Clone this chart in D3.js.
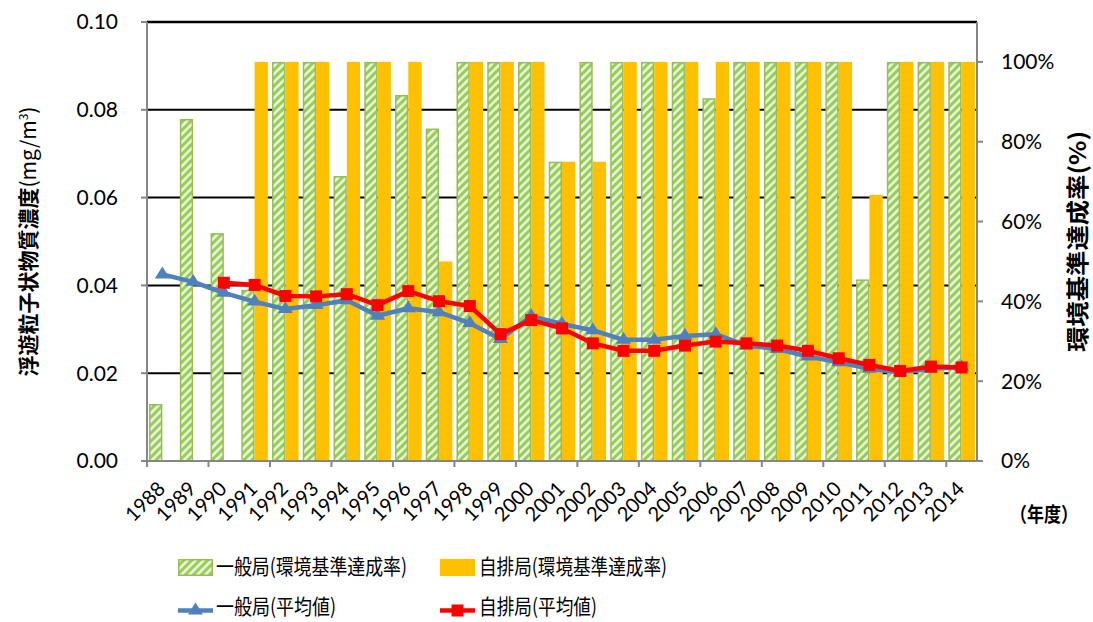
<!DOCTYPE html>
<html><head><meta charset="utf-8">
<script src="https://cdn.jsdelivr.net/npm/d3@7"></script>
<style>body{margin:0;background:#fff}svg{display:block}</style>
</head><body>
<svg id="c" width="1093" height="622"></svg>
<script>
const years = ["1988","1989","1990","1991","1992","1993","1994","1995","1996","1997","1998","1999","2000","2001","2002","2003","2004","2005","2006","2007","2008","2009","2010","2011","2012","2013","2014"];
// 環境基準達成率 (%)
const genRate  = [14.3,85.7,57.1,42.9,100,100,71.4,100,91.7,83.3,100,100,100,75,100,100,100,100,90.9,100,100,100,100,45.5,100,100,100];
const autoRate = [null,null,null,100,100,100,100,100,100,50,100,100,100,75,75,100,100,100,100,100,100,100,100,66.7,100,100,100];
// 平均値 (mg/m3)
const genMean  = [0.0425,0.0408,0.0383,0.0363,0.0346,0.0355,0.0366,0.0331,0.0348,0.0339,0.0314,0.0278,0.0330,0.0312,0.0298,0.0276,0.0276,0.0285,0.0289,0.0263,0.0255,0.0238,0.0225,0.0210,0.0202,0.0210,0.0214];
const autoMean = [null,null,0.0406,0.0401,0.0376,0.0375,0.0380,0.0355,0.0387,0.0364,0.0353,0.0289,0.0321,0.0302,0.0268,0.0251,0.0251,0.0263,0.0272,0.0268,0.0263,0.0251,0.0234,0.0219,0.0205,0.0215,0.0213];
const leftTicks = [0,0.02,0.04,0.06,0.08,0.10];
const rightTicks = [0,20,40,60,80,100];
const legendLabels = ["一般局(環境基準達成率)","自排局(環境基準達成率)","一般局(平均値)","自排局(平均値)"];

const svg = d3.select("#c");
const L = 147, R = 977, T = 22, B = 461;
const num = "Lato, 'Noto Sans', sans-serif";
const cjk = "'Noto Sans CJK JP', sans-serif";

const x = d3.scaleBand().domain(years).range([L, R]).padding(0);
const x1 = d3.scaleBand().domain(["g","a"]).range([0, x.bandwidth()]).paddingInner(0).paddingOuter(0.156);
const yL = d3.scaleLinear().domain([0, 0.10]).range([B, T]);
const yR = d3.scaleLinear().domain([0, 110]).range([B, T]);

// pattern
const defs = svg.append("defs");
const pat = defs.append("pattern").attr("id","hatch").attr("patternUnits","userSpaceOnUse")
  .attr("width",8).attr("height",8);
pat.append("rect").attr("width",8).attr("height",8).attr("fill","#EBF1DE");
pat.append("path").attr("d","M-2,10 L10,-2 M-2,2 L2,-2 M6,10 L10,6").attr("stroke","#92D050").attr("stroke-width",3);

// gridlines
svg.append("g").selectAll("line").data(leftTicks.filter(d=>d>0)).join("line")
  .attr("x1",L).attr("x2",R).attr("y1",d=>yL(d)).attr("y2",d=>yL(d))
  .attr("stroke","#000").attr("stroke-width",d=>d===0.10?2.6:2);

// bars
const gb = svg.append("g");
gb.selectAll("rect.g").data(years.map((y,i)=>({y,v:genRate[i]})).filter(d=>d.v!=null)).join("rect")
  .attr("x",d=>x(d.y)+x1("g")+0.75).attr("width",x1.bandwidth()-1.5)
  .attr("y",d=>yR(d.v)+0.75).attr("height",d=>B-yR(d.v)-0.75)
  .attr("fill","url(#hatch)").attr("stroke","#9BBB59").attr("stroke-width",1.5);
gb.selectAll("rect.a").data(years.map((y,i)=>({y,v:autoRate[i]})).filter(d=>d.v!=null)).join("rect")
  .attr("x",d=>x(d.y)+x1("a")).attr("width",x1.bandwidth())
  .attr("y",d=>yR(d.v)).attr("height",d=>B-yR(d.v))
  .attr("fill","#FFC000");

// axes lines
const ax = svg.append("g").attr("stroke","#868686").attr("stroke-width",2);
ax.append("line").attr("x1",L).attr("x2",L).attr("y1",T).attr("y2",B);
ax.append("line").attr("x1",R).attr("x2",R).attr("y1",T).attr("y2",B+1);
ax.append("line").attr("x1",L-1).attr("x2",R+1).attr("y1",B).attr("y2",B);
ax.selectAll("line.tl").data(leftTicks).join("line").attr("x1",L-6).attr("x2",L).attr("y1",d=>yL(d)).attr("y2",d=>yL(d));
ax.selectAll("line.tr").data(rightTicks).join("line").attr("x1",R).attr("x2",R+6).attr("y1",d=>yR(d)).attr("y2",d=>yR(d));
ax.selectAll("line.tb").data(years.filter((d,i)=>i%2===0)).join("line")
  .attr("x1",d=>x(d)).attr("x2",d=>x(d)).attr("y1",B).attr("y2",B+6);

// tick labels
svg.append("g").selectAll("text").data(leftTicks).join("text")
  .attr("x",118).attr("y",d=>yL(d)).attr("dy","0.35em").attr("text-anchor","end")
  .attr("font-family",num).attr("font-size",21).text(d=>d3.format(".2f")(d));
svg.append("g").selectAll("text").data(rightTicks).join("text")
  .attr("x",1001).attr("y",d=>yR(d)).attr("dy","0.35em").attr("text-anchor","start")
  .attr("font-family",num).attr("font-size",21).text(d=>d+"%");
svg.append("g").selectAll("text").data(years).join("text")
  .attr("transform",d=>`translate(${x(d)+x.bandwidth()/2+4},${490}) rotate(-45)`)
  .attr("text-anchor","end").attr("font-family",num).attr("font-size",20).text(d=>d);

// lines
const cx = d => x(d)+x.bandwidth()/2;
const gData = years.map((y,i)=>({y,v:genMean[i]})).filter(d=>d.v!=null);
const aData = years.map((y,i)=>({y,v:autoMean[i]})).filter(d=>d.v!=null);
const line = d3.line().x(d=>cx(d.y)).y(d=>yL(d.v));
svg.append("path").datum(gData).attr("d",line).attr("fill","none").attr("stroke","#4F81BD").attr("stroke-width",4.5).attr("stroke-linejoin","round");
const tri = d3.symbol().type(d3.symbolTriangle).size(90);
svg.append("g").selectAll("path").data(gData).join("path")
  .attr("d",tri).attr("transform",d=>`translate(${cx(d.y)},${yL(d.v)}) scale(1.05,0.95)`).attr("fill","#4F81BD");
svg.append("path").datum(aData).attr("d",line).attr("fill","none").attr("stroke","#FF0000").attr("stroke-width",4.5).attr("stroke-linejoin","round");
svg.append("g").selectAll("rect").data(aData).join("rect")
  .attr("x",d=>cx(d.y)-6).attr("y",d=>yL(d.v)-6).attr("width",12).attr("height",12).attr("fill","#FF0000");

// axis titles
const lt = svg.append("text").attr("transform","translate(36,241.5) rotate(-90)").attr("text-anchor","middle")
  .attr("font-family",cjk).attr("font-size",21).attr("font-weight","bold");
lt.append("tspan").text("浮遊粒子状物質濃度");
lt.append("tspan").attr("font-weight","normal").text("(mg/m");
lt.append("tspan").attr("font-weight","normal").attr("font-size",12).attr("dy",-8).text("3");
lt.append("tspan").attr("font-weight","normal").attr("dy",8).text(")");
svg.append("text").attr("transform","translate(1086,241.5) rotate(-90)").attr("text-anchor","middle")
  .attr("font-family",cjk).attr("font-size",23).attr("font-weight","bold")
  .attr("textLength",221).attr("lengthAdjust","spacingAndGlyphs").text("環境基準達成率(%)");
svg.append("text").attr("x",1044).attr("y",515).attr("dy","0.35em").attr("text-anchor","middle")
  .attr("font-family",cjk).attr("font-size",20).attr("font-weight","bold")
  .attr("textLength",68).attr("lengthAdjust","spacingAndGlyphs").text("（年度）");

// legend
const lg = svg.append("g").attr("font-family",cjk).attr("font-size",21);
lg.append("rect").attr("x",178.75).attr("y",559.75).attr("width",33.5).attr("height",15.5).attr("fill","url(#hatch)").attr("stroke","#9BBB59").attr("stroke-width",1.5);
lg.append("rect").attr("x",440).attr("y",559).attr("width",35).attr("height",17).attr("fill","#FFC000");
lg.append("line").attr("x1",178).attr("x2",213).attr("y1",610.5).attr("y2",610.5).attr("stroke","#4F81BD").attr("stroke-width",4.5);
lg.append("path").attr("d",tri).attr("transform","translate(195.5,610.5) scale(1.05,0.95)").attr("fill","#4F81BD");
lg.append("line").attr("x1",440).attr("x2",475).attr("y1",610.5).attr("y2",610.5).attr("stroke","#FF0000").attr("stroke-width",4.5);
lg.append("rect").attr("x",451.5).attr("y",604.5).attr("width",12).attr("height",12).attr("fill","#FF0000");
const lpos = [[216,567,191],[479,567,188],[216,607,120],[479,607,118]];
lg.selectAll("text").data(legendLabels).join("text")
  .attr("x",(d,i)=>lpos[i][0]).attr("y",(d,i)=>lpos[i][1]).attr("dy","0.35em")
  .attr("textLength",(d,i)=>lpos[i][2]).attr("lengthAdjust","spacingAndGlyphs").text(d=>d);
</script>
</body></html>
